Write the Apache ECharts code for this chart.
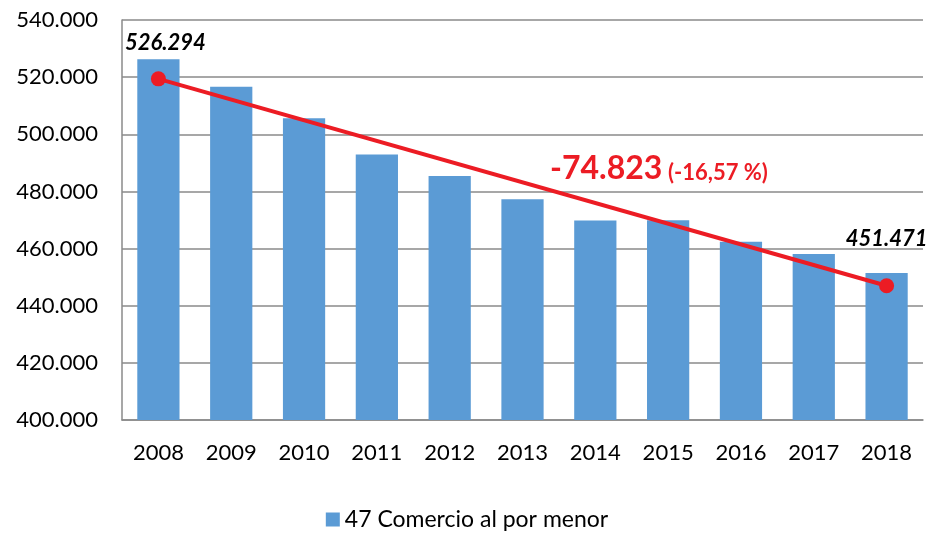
<!DOCTYPE html>
<html>
<head>
<meta charset="utf-8">
<script src="https://cdn.jsdelivr.net/npm/echarts@6/dist/echarts.min.js"></script>
<style>
  html, body { margin: 0; padding: 0; background: #fff; }
  #chart { width: 934px; height: 538px; }
</style>
</head>
<body>
<div id="chart"></div>
<script>
var years = ['2008', '2009', '2010', '2011', '2012', '2013', '2014', '2015', '2016', '2017', '2018'];
var empleo = [526.294, 516.6, 505.6, 492.9, 485.4, 477.3, 469.8, 469.9, 462.4, 458.1, 451.471];
var tendencia = [519.4, null, null, null, null, null, null, null, null, null, 447.0];
var yTicks = [400, 420, 440, 460, 480, 500, 520, 540];
var serieName = '47 Comercio al por menor';

var font = 'Lato';
var rojo = '#EC1C24';

function fmt(v) {
    return v.toFixed(3);
}

// etiquetas solo en primer y último año
var barData = empleo.map(function (v, i) {
    var item = { value: v };
    if (i === 0) {
        item.label = { show: true, offset: [7, 0] };
    } else if (i === empleo.length - 1) {
        item.label = { show: true, offset: [0, -18] };
    }
    return item;
});

var myChart = echarts.init(document.getElementById('chart'));

myChart.setOption({
    animation: false,
    textStyle: { fontFamily: font },
    grid: { left: 122, right: 11, top: 20, bottom: 118 },
    legend: {
        data: [serieName],
        bottom: 2,
        left: 'center',
        icon: 'rect',
        itemWidth: 14,
        itemHeight: 14,
        itemGap: 8,
        textStyle: { fontFamily: font, fontSize: 23, color: '#000' }
    },
    xAxis: {
        type: 'category',
        data: years,
        axisLine: { lineStyle: { color: '#8a8a8a', width: 1.5 } },
        axisTick: { show: false },
        axisLabel: { color: '#000', fontSize: 22, margin: 22 }
    },
    yAxis: {
        type: 'value',
        min: yTicks[0],
        max: yTicks[yTicks.length - 1],
        interval: 20,
        axisLine: { show: true, lineStyle: { color: '#8a8a8a', width: 1.5 } },
        axisTick: { show: false },
        splitLine: { lineStyle: { color: '#8a8a8a', width: 1.5 } },
        axisLabel: {
            color: '#000',
            fontSize: 22,
            margin: 24,
            formatter: function (v) { return fmt(v); }
        }
    },
    series: [
        {
            name: serieName,
            type: 'bar',
            data: barData,
            barWidth: '58%',
            itemStyle: { color: '#5B9BD5' },
            label: {
                show: false,
                position: 'top',
                distance: 5,
                color: '#000',
                fontSize: 22,
                fontWeight: 'bold',
                fontStyle: 'italic',
                formatter: function (p) { return fmt(p.value); }
            }
        },
        {
            name: 'tendencia',
            type: 'line',
            data: tendencia,
            connectNulls: true,
            symbol: 'circle',
            symbolSize: 15,
            lineStyle: { color: rojo, width: 4 },
            itemStyle: { color: rojo },
            z: 5
        }
    ],
    graphic: [
        {
            type: 'text',
            left: 550,
            top: 153,
            style: {
                text: '-74.823',
                fill: rojo,
                font: 'bold 32px Lato'
            }
        },
        {
            type: 'text',
            left: 668,
            top: 162,
            style: {
                text: '(-16,57 %)',
                fill: rojo,
                font: 'bold 22px Lato'
            }
        }
    ]
});
</script>
</body>
</html>
